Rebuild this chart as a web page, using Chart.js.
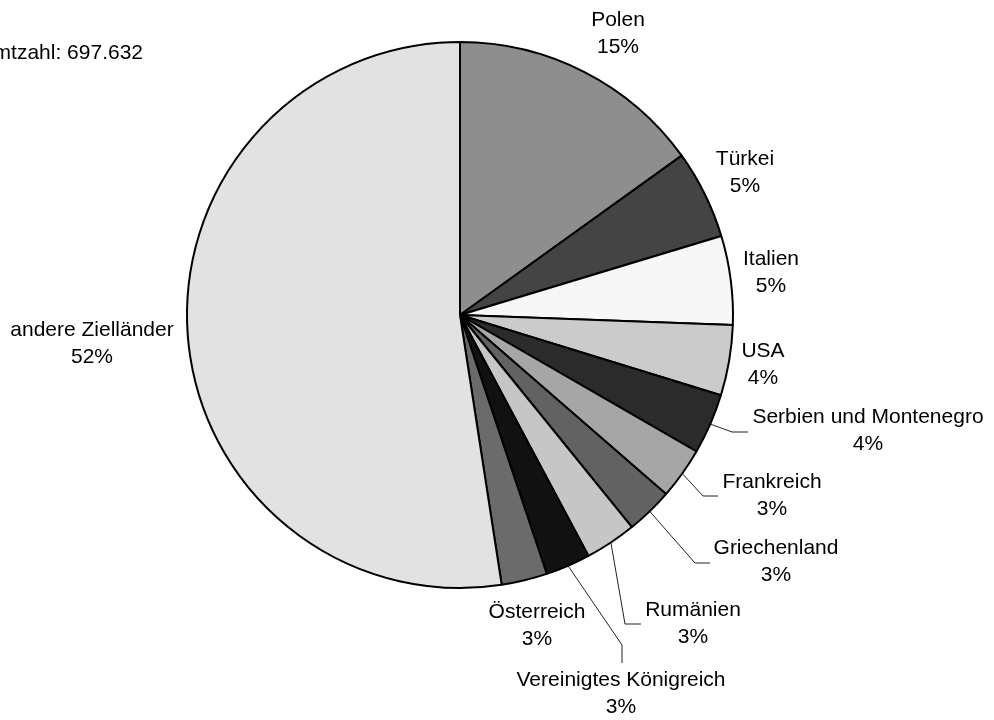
<!DOCTYPE html>
<html>
<head>
<meta charset="utf-8">
<script src="https://cdn.jsdelivr.net/npm/chart.js@4.4.1/dist/chart.umd.min.js"></script>
<style>
  html, body { margin: 0; padding: 0; background: #fff; }
  #wrap { width: 994px; height: 720px; position: relative; }
</style>
</head>
<body>
<div id="wrap"><canvas id="pieChart" width="994" height="720"></canvas></div>
<script>
// ---------------------------------------------------------------------------
// DATA (Anteile in %)
// ---------------------------------------------------------------------------
const countries = ['Polen', 'Türkei', 'Italien', 'USA', 'Serbien und Montenegro',
    'Frankreich', 'Griechenland', 'Rumänien', 'Vereinigtes Königreich', 'Österreich',
    'andere Zielländer'];
const shares = [15.08, 5.25, 5.25, 4.17, 3.58, 3.06, 2.77, 3.04, 2.65, 2.71, 52.44];
const totalText = 'Gesamtzahl: 697.632';

// slice fills (grey scale as in the original)
const sliceColors = ['#8e8e8e', '#444444', '#f7f7f7', '#cbcbcb', '#2b2b2b',
    '#a6a6a6', '#626262', '#c6c6c6', '#111111', '#6b6b6b', '#e2e2e2'];

// label layout: [centerX, firstLineY] and optional leader line points
const labelPos = [
    [618, 20], [745, 159], [771, 259], [763, 351], [868, 417],
    [772, 482], [776, 548], [693, 610], [621, 680], [537, 612], [92, 330]
];
const leaders = {
    4: [[732, 432], [748, 432]],
    5: [[703, 496], [718, 496]],
    6: [[695, 563], [710, 563]],
    7: [[625, 624], [641, 624]],
    8: [[622, 645], [622, 663]]
};

// ---------------------------------------------------------------------------
// LABEL PLUGIN
// ---------------------------------------------------------------------------
const labelPlugin = {
    id: 'pieLabels',
    afterDraw(chart) {
        const ctx = chart.ctx;
        const meta = chart.getDatasetMeta(0);
        const total = shares.reduce((a, b) => a + b, 0);

        ctx.save();
        // leader lines from the middle of each arc's outer edge
        ctx.strokeStyle = '#222';
        ctx.lineWidth = 1;
        Object.keys(leaders).forEach(k => {
            const arc = meta.data[k];
            const p = arc.getProps(['x', 'y', 'startAngle', 'endAngle', 'outerRadius'], true);
            const mid = (p.startAngle + p.endAngle) / 2;
            const sx = p.x + Math.cos(mid) * p.outerRadius;
            const sy = p.y + Math.sin(mid) * p.outerRadius;
            ctx.beginPath();
            ctx.moveTo(sx, sy);
            leaders[k].forEach(pt => ctx.lineTo(pt[0], pt[1]));
            ctx.stroke();
        });

        ctx.fillStyle = '#000';
        ctx.font = '21px "Liberation Sans", Arial, sans-serif';
        ctx.textBaseline = 'middle';
        ctx.textAlign = 'center';
        countries.forEach((name, i) => {
            const [x, y] = labelPos[i];
            ctx.fillText(name, x, y);
            ctx.fillText(Math.round(shares[i] / total * 100) + '%', x, y + 27);
        });

        ctx.textAlign = 'right';
        ctx.fillText(totalText, 143, 53);
        ctx.restore();
    }
};

// ---------------------------------------------------------------------------
// CHART
// ---------------------------------------------------------------------------
new Chart(document.getElementById('pieChart'), {
    type: 'pie',
    data: {
        labels: countries,
        datasets: [{
            data: shares,
            backgroundColor: sliceColors,
            borderColor: '#000',
            borderWidth: 2
        }]
    },
    options: {
        responsive: false,
        animation: false,
        radius: 273,
        layout: { padding: { left: 0, right: 74, top: 0, bottom: 90 } },
        plugins: {
            legend: { display: false },
            tooltip: { enabled: false }
        }
    },
    plugins: [labelPlugin]
});
</script>
</body>
</html>
